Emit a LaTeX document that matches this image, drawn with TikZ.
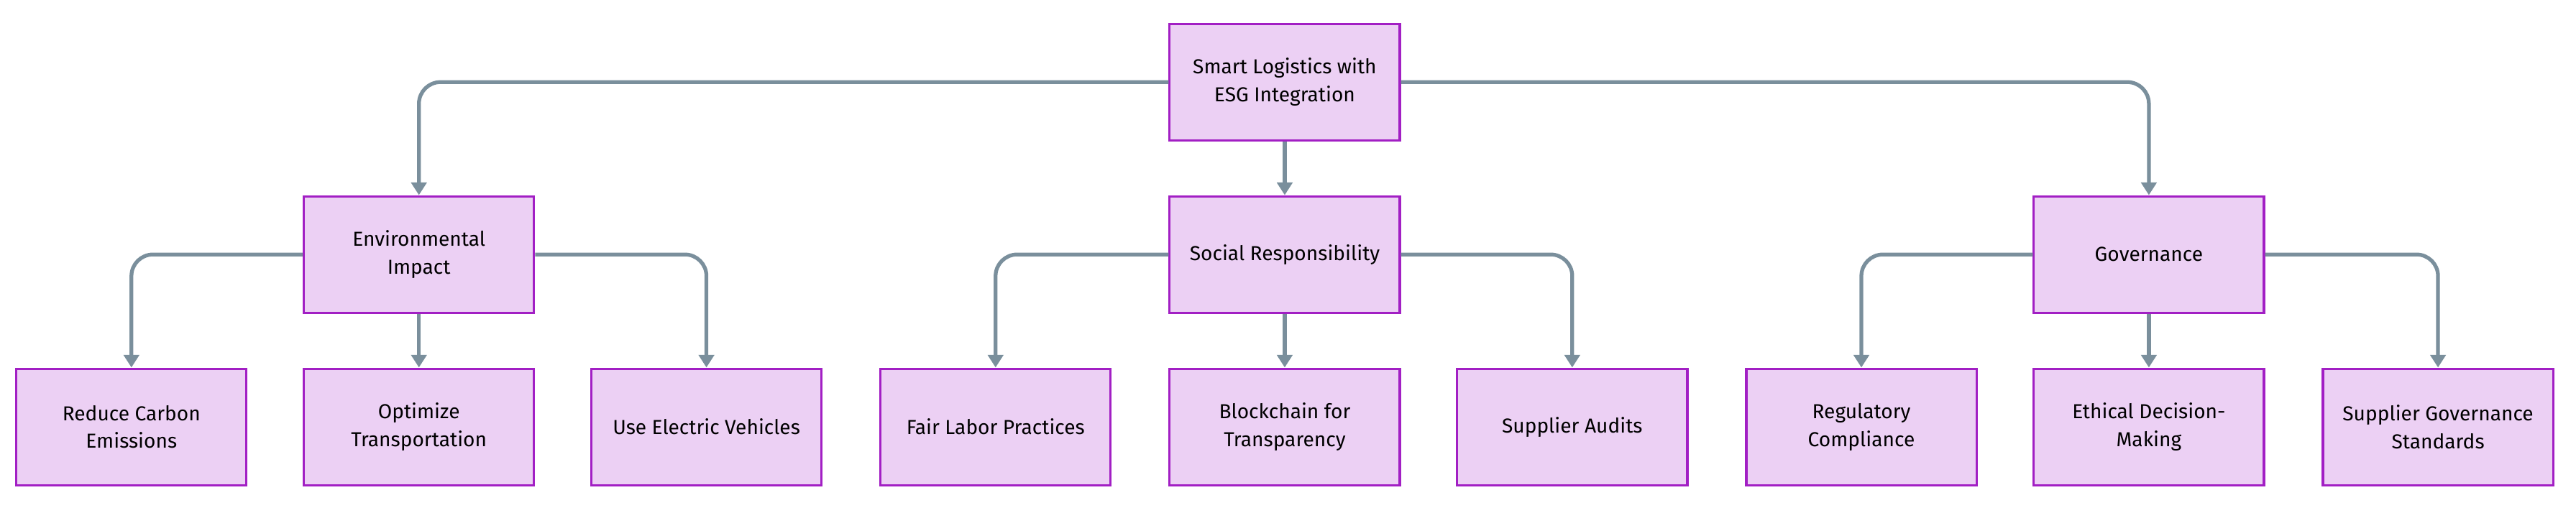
\documentclass[tikz,border=0pt]{standalone}
\usepackage{fontspec}
\setmainfont{Fira Sans}
\usetikzlibrary{arrows.meta}
\definecolor{boxfill}{HTML}{ECD0F4}
\definecolor{boxline}{HTML}{A21FC4}
\definecolor{linkcol}{HTML}{7A8F9C}
\tikzset{
  box/.style={draw=boxline, fill=boxfill, line width=0.9pt, minimum width=3.2cm, minimum height=1.62cm, align=center, font=\fontsize{8}{11}\selectfont},
  link/.style={draw=linkcol, line width=1.5pt, rounded corners=0.3cm, -{Triangle[length=5pt,width=6pt]}}
}
\begin{document}
\begin{tikzpicture}[x=0.02285cm, y=-0.02285cm]
\useasboundingbox (0,0) rectangle (1568,309);
\node[box] (root) at (782,50) {Smart Logistics with\\ESG Integration};
\node[box] (env) at (255,155) {Environmental\\Impact};
\node[box] (soc) at (782,155) {Social Responsibility};
\node[box] (gov) at (1308,155) {Governance};
\node[box] (carbon) at (80,260) {Reduce Carbon\\Emissions};
\node[box] (transport) at (255,260) {Optimize\\Transportation};
\node[box] (electric) at (430,260) {Use Electric Vehicles};
\node[box] (labor) at (606,260) {Fair Labor Practices};
\node[box] (chain) at (782,260) {Blockchain for\\Transparency};
\node[box] (audits) at (957,260) {Supplier Audits};
\node[box] (comply) at (1133,260) {Regulatory\\Compliance};
\node[box] (ethics) at (1308,260) {Ethical Decision-\\Making};
\node[box] (standards) at (1484,260) {Supplier Governance\\Standards};
% top level
\draw[link] (root.west) -| (env.north);
\draw[link] (root) -- (soc);
\draw[link] (root.east) -| (gov.north);
% children
\draw[link] (env.west) -| (carbon.north);
\draw[link] (env) -- (transport);
\draw[link] (env.east) -| (electric.north);
\draw[link] (soc.west) -| (labor.north);
\draw[link] (soc) -- (chain);
\draw[link] (soc.east) -| (audits.north);
\draw[link] (gov.west) -| (comply.north);
\draw[link] (gov) -- (ethics);
\draw[link] (gov.east) -| (standards.north);
\end{tikzpicture}
\end{document}
